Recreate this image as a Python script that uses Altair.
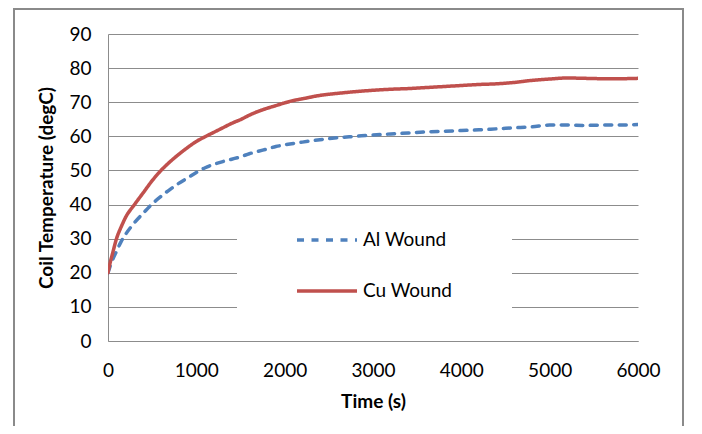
import altair as alt
import pandas as pd

# ---- data ----
cu_time = [0, 25, 50, 100, 150, 200, 300, 400, 500, 600, 700, 800, 900, 1000, 1100, 1200,
           1300, 1400, 1500, 1600, 1700, 1800, 1900, 2000, 2100, 2200, 2400, 2600, 2800,
           3000, 3200, 3400, 3600, 3800, 4000, 4200, 4400, 4600, 4800, 5000, 5200, 5400,
           5600, 5800, 6000]
cu_temp = [20, 23, 25.5, 30.3, 33.5, 36.3, 40, 43.5, 47, 50, 52.5, 54.7, 56.7, 58.5, 59.9,
           61.2, 62.5, 63.8, 64.9, 66.2, 67.3, 68.2, 69.0, 69.8, 70.5, 71.0, 72.0, 72.6,
           73.1, 73.5, 73.8, 74.0, 74.3, 74.6, 74.9, 75.2, 75.4, 75.8, 76.4, 76.8, 77.1,
           77.0, 76.9, 76.9, 77.0]

al_time = [0, 25, 50, 100, 150, 200, 300, 400, 500, 600, 700, 800, 900, 1000, 1100, 1200,
           1300, 1400, 1500, 1600, 1700, 1800, 1900, 2000, 2200, 2400, 2600, 2800, 3000,
           3200, 3400, 3600, 3800, 4000, 4200, 4400, 4600, 4800, 5000, 5200, 5400, 5600,
           5800, 6000]
al_temp = [20, 22, 23.7, 26.5, 29.2, 31.3, 34.7, 37.5, 40.2, 42.4, 44.4, 46.2, 47.8, 49.4,
           50.8, 51.8, 52.6, 53.3, 54.0, 54.9, 55.6, 56.3, 57.0, 57.5, 58.3, 59.0, 59.6,
           60.0, 60.4, 60.7, 61.0, 61.3, 61.5, 61.7, 61.9, 62.2, 62.5, 62.8, 63.3, 63.3,
           63.2, 63.3, 63.3, 63.5]

series_names = ["Al Wound", "Cu Wound"]
series_colors = ["#4F81BD", "#C0504D"]

df = pd.DataFrame({
    "time": al_time + cu_time,
    "temp": al_temp + cu_temp,
    "series": [series_names[0]] * len(al_time) + [series_names[1]] * len(cu_time),
    "order": list(range(len(al_time))) + list(range(len(cu_time))),
})

FONT = "Lato"
GRID = "#8c8c8c"

legend_opts = dict(title=None, orient="none", legendX=187, legendY=174,
                   symbolType="stroke", symbolSize=3600, symbolStrokeWidth=3.5,
                   labelFontSize=19, labelFont=FONT, labelColor="#000000",
                   rowPadding=9, labelOffset=4, padding=0)

lines = alt.Chart(df).mark_line(strokeWidth=3.5, strokeCap="round", clip=True,
                                interpolate="monotone").encode(
    x=alt.X("time:Q", title="Time (s)",
            scale=alt.Scale(domain=[0, 6000], nice=False),
            axis=alt.Axis(values=[0, 1000, 2000, 3000, 4000, 5000, 6000], format="d",
                          grid=False, ticks=False, labelPadding=20, titlePadding=12,
                          labelFlush=False)),
    y=alt.Y("temp:Q", title="Coil Temperature (degC)",
            scale=alt.Scale(domain=[0, 90], nice=False),
            axis=alt.Axis(values=list(range(0, 91, 10)), format="d", grid=True,
                          ticks=False, labelPadding=17, titlePadding=12,
                          labelFlush=False)),
    color=alt.Color("series:N", scale=alt.Scale(domain=series_names, range=series_colors),
                    legend=alt.Legend(**legend_opts)),
    strokeDash=alt.StrokeDash("series:N",
                              scale=alt.Scale(domain=series_names, range=[[7, 7.5], [1, 0]]),
                              legend=alt.Legend(**legend_opts)),
    order="order:Q",
)

one = pd.DataFrame({"a": [0]})
border = alt.Chart(one).mark_rect(fill=None, stroke="#8a8a8a", strokeWidth=2).encode(
    x=alt.value(-94), x2=alt.value(575), y=alt.value(-25), y2=alt.value(398))
legend_bg = alt.Chart(one).mark_rect(fill="white", stroke=None).encode(
    x=alt.value(129), x2=alt.value(404), y=alt.value(178), y2=alt.value(292))

chart = alt.layer(border, legend_bg, lines).properties(
    width=530, height=307,
    autosize=alt.AutoSizeParams(type="none"),
    padding={"left": 100, "top": 26, "right": 56, "bottom": 85},
    background="white",
).configure_view(stroke=None).configure_axis(
    labelFont=FONT, labelFontSize=19, labelColor="#000000",
    titleFont=FONT, titleFontSize=19, titleFontWeight="bold", titleColor="#000000",
    domainColor=GRID, domainWidth=1, gridColor=GRID, gridWidth=1,
)

chart.save("out.html", embed_options={"renderer": "svg", "actions": False})
